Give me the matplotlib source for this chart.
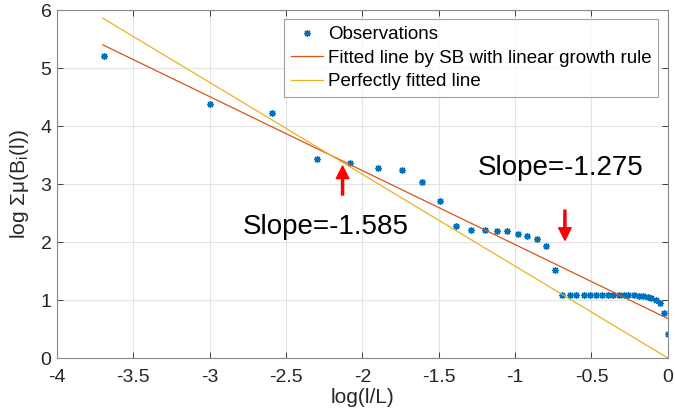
import matplotlib
matplotlib.use('Agg')
import matplotlib.pyplot as plt

plt.rcParams['font.family'] = ['Liberation Sans', 'DejaVu Sans']
plt.rcParams['mathtext.fontset'] = 'custom'
plt.rcParams['mathtext.rm'] = 'Liberation Sans'

# Observations
obs_x = [-3.69, -3.00, -2.59, -2.30, -2.08, -1.90, -1.74, -1.61, -1.49, -1.39,
         -1.29, -1.20, -1.12, -1.05, -0.98, -0.92, -0.86, -0.80, -0.74,
         -0.69, -0.64, -0.60, -0.55, -0.51, -0.47, -0.43, -0.39, -0.36, -0.32,
         -0.29, -0.26, -0.22, -0.19, -0.16, -0.13, -0.11, -0.08, -0.05, -0.025, 0.0]
obs_y = [5.20, 4.38, 4.22, 3.44, 3.37, 3.28, 3.24, 3.03, 2.71, 2.28,
         2.20, 2.20, 2.19, 2.19, 2.13, 2.10, 2.05, 1.94, 1.52,
         1.09, 1.09, 1.09, 1.09, 1.09, 1.09, 1.09, 1.09, 1.09, 1.09,
         1.09, 1.09, 1.08, 1.075, 1.07, 1.06, 1.03, 1.00, 0.95, 0.77, 0.42]

# Fitted lines (end points)
line_x = [-3.7, 0.0]
sb_y = [5.40, 0.68]
perfect_y = [5.86, 0.0]

slope_labels = ['Slope=-1.275', 'Slope=-1.585']

fig = plt.figure(figsize=(6.75, 4.18), dpi=100)
ax = fig.add_axes([0.0844, 0.1435, 0.905, 0.8325])

ax.plot(obs_x, obs_y, linestyle='none', marker=(8, 2, 0), markersize=5,
        markeredgewidth=0.9, color='#0072BD', label='Observations')
ax.plot(line_x, sb_y, color='#D95319', linewidth=0.9,
        label='Fitted line by SB with linear growth rule')
ax.plot(line_x, perfect_y, color='#EDB120', linewidth=0.9,
        label='Perfectly fitted line')

# Arrows and slope text
ax.annotate('', xy=(-2.13, 3.31), xytext=(-2.13, 2.81),
            arrowprops=dict(facecolor='red', edgecolor='red', width=1.5,
                            headwidth=9, headlength=9))
ax.annotate('', xy=(-0.674, 2.03), xytext=(-0.674, 2.55),
            arrowprops=dict(facecolor='red', edgecolor='red', width=1.5,
                            headwidth=9, headlength=9))
ax.text(-1.244, 3.28, slope_labels[0], fontsize=20, ha='left', va='center')
ax.text(-2.784, 2.26, slope_labels[1], fontsize=20, ha='left', va='center')

ax.set_xlim(-4, 0)
ax.set_ylim(0, 6)
ax.set_xticks([-4, -3.5, -3, -2.5, -2, -1.5, -1, -0.5, 0])
ax.set_xticklabels(['-4', '-3.5', '-3', '-2.5', '-2', '-1.5', '-1', '-0.5', '0'])
ax.set_yticks([0, 1, 2, 3, 4, 5, 6])
ax.tick_params(direction='in', top=True, right=True, labelsize=14,
               colors='#262626', length=4, width=0.6)
ax.tick_params(axis='x', pad=8)
ax.tick_params(axis='y', pad=4)
for s in ax.spines.values():
    s.set_color('#8a8a8a')
    s.set_linewidth(0.8)
ax.grid(True, color='#e3e3e3', linewidth=0.8)
ax.set_axisbelow(True)

ax.set_xlabel('log(l/L)', fontsize=15, color='#262626', labelpad=1)
ax.set_ylabel(r'log Σμ(B$_{\mathrm{i}}$(l))', fontsize=15, color='#262626', labelpad=7)

leg = ax.legend(loc='upper right', fontsize=13.5, frameon=True, fancybox=False,
                edgecolor='#8a8a8a', handlelength=1.7, borderaxespad=0.5,
                handletextpad=0.3, borderpad=0.35, labelspacing=0.35)
leg.get_frame().set_linewidth(0.8)

fig.savefig('out.png', dpi=100)
